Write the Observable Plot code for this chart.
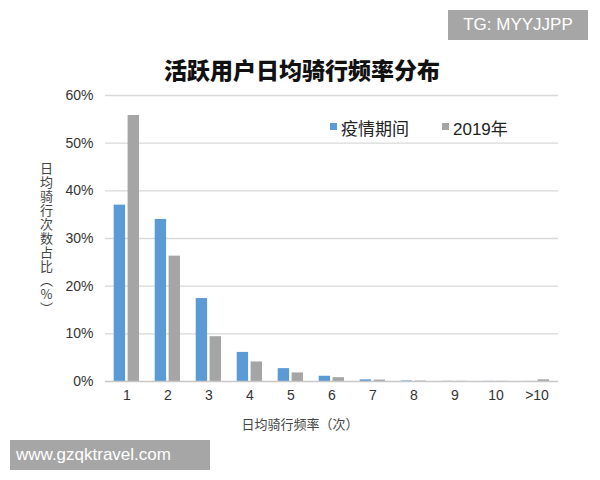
<!DOCTYPE html>
<html>
<head>
<meta charset="utf-8">
<script src="https://cdn.jsdelivr.net/npm/d3@7"></script>
<script src="https://cdn.jsdelivr.net/npm/@observablehq/plot@0.6"></script>
<style>
  html, body { margin: 0; padding: 0; background: #fff; }
  body { font-family: "Liberation Sans", "Noto Sans CJK SC", sans-serif; }
  #wrap { position: relative; width: 600px; height: 480px; overflow: hidden; }
  #chart { position: absolute; left: 0; top: 0; }
  .abs { position: absolute; white-space: nowrap; }
  #title { left: 2px; width: 600px; top: 52px; text-align: center; font-size: 23px; font-weight: 900; color: #111; font-family: "Noto Sans CJK SC", sans-serif; }
  #tg { left: 448px; top: 10px; width: 140px; height: 30px; background: #a6a6a6; color: #fff; font-size: 17px; line-height: 30px; text-align: center; }
  #www { left: 10px; top: 440px; width: 200px; height: 30px; background: #a6a6a6; color: #fff; font-size: 17px; line-height: 30px; padding-left: 6px; box-sizing: border-box; }
  #legend { left: 330px; top: 115px; font-size: 17px; color: #222; font-family: "Liberation Sans", "Noto Sans CJK SC", sans-serif; }
  #legend .sw { display: inline-block; width: 7px; height: 7px; margin-right: 4px; vertical-align: 5px; }
  #legend .item { display: inline-block; margin-right: 33px; }
  #ylabel { left: 37px; top: 162px; writing-mode: vertical-rl; text-orientation: upright; font-size: 13px; color: #444; letter-spacing: 1px; font-family: "Noto Sans CJK SC", sans-serif; }
  #xlabel { left: 0; width: 600px; top: 414px; text-align: center; font-size: 13px; color: #444; font-family: "Noto Sans CJK SC", sans-serif; }
</style>
</head>
<body>
<div id="wrap">
  <div id="chart"></div>
  <div id="tg" class="abs">TG: MYYJJPP</div>
  <div id="title" class="abs">活跃用户日均骑行频率分布</div>
  <div id="legend" class="abs"></div>
  <div id="ylabel" class="abs">日均骑行次数占比（%）</div>
  <div id="xlabel" class="abs">日均骑行频率（次）</div>
  <div id="www" class="abs">www.gzqktravel.com</div>
</div>
<script>
const categories = ["1", "2", "3", "4", "5", "6", "7", "8", "9", "10", ">10"];
const seriesNames = ["疫情期间", "2019年"];
const epidemic = [37.0, 34.0, 17.4, 6.1, 2.7, 1.1, 0.35, 0.12, 0.04, 0.03, 0.02];
const y2019 = [55.8, 26.3, 9.4, 4.1, 1.8, 0.8, 0.3, 0.1, 0.04, 0.03, 0.35];
const yTicks = [0, 10, 20, 30, 40, 50, 60];
const colors = ["#5b9bd5", "#a5a5a5"];

const data = [];
categories.forEach((c, i) => {
  data.push({cat: c, series: seriesNames[0], value: epidemic[i]});
  data.push({cat: c, series: seriesNames[1], value: y2019[i]});
});

const font = "Liberation Sans, Noto Sans CJK SC, sans-serif";
const chart = Plot.plot({
  width: 600,
  height: 480,
  marginLeft: 105,
  marginRight: 42,
  marginTop: 95,
  marginBottom: 99,
  style: {fontFamily: font, fontSize: "14px", color: "#333", background: "transparent"},
  x: {domain: categories, padding: 0, label: null, tickSize: 0, tickPadding: 9},
  y: {domain: [0, 60], ticks: yTicks, label: null, tickSize: 0, tickPadding: 12, tickFormat: d => d + "%"},
  color: {domain: seriesNames, range: colors},
  marks: [
    Plot.ruleY(yTicks.filter(d => d > 0), {stroke: "#d9d9d9", strokeWidth: 1.3}),
    Plot.barY(data.filter(d => d.series === seriesNames[0]), {x: "cat", y: "value", fill: colors[0], insetLeft: 7.7, insetRight: 21.9}),
    Plot.barY(data.filter(d => d.series === seriesNames[1]), {x: "cat", y: "value", fill: colors[1], insetLeft: 21.6, insetRight: 8}),
    Plot.ruleY([0], {stroke: "#c8c8c8", strokeWidth: 1.5})
  ]
});
document.getElementById("chart").appendChild(chart);

const legend = document.getElementById("legend");
seriesNames.forEach((s, i) => {
  const item = document.createElement("span");
  item.className = "item";
  const sw = document.createElement("span");
  sw.className = "sw";
  sw.style.background = colors[i];
  item.appendChild(sw);
  item.appendChild(document.createTextNode(s));
  legend.appendChild(item);
});
</script>
</body>
</html>
